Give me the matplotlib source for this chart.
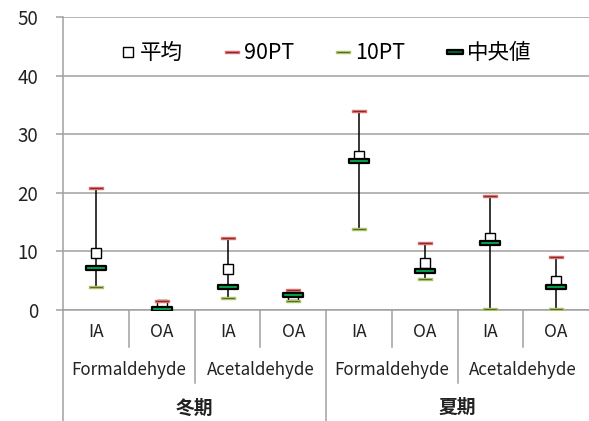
import matplotlib
matplotlib.use("Agg")
import matplotlib.pyplot as plt
from matplotlib.lines import Line2D
from matplotlib.path import Path
import numpy as np

plt.rcParams['font.family'] = ['Noto Sans CJK JP', 'DejaVu Sans']

sites = ['IA', 'OA', 'IA', 'OA', 'IA', 'OA', 'IA', 'OA']
compounds = ['Formaldehyde', 'Acetaldehyde', 'Formaldehyde', 'Acetaldehyde']
seasons = ['冬期', '夏期']

mean = [9.8, 0.9, 7.0, 2.6, 26.2, 8.0, 12.3, 5.0]
p90 = [20.9, 1.6, 12.3, 3.4, 34.0, 11.5, 19.5, 9.0]
p10 = [4.0, 0.1, 2.1, 1.5, 13.9, 5.3, 0.2, 0.2]
median = [7.2, 0.2, 4.0, 2.6, 25.5, 6.7, 11.5, 4.0]

# flat rectangle marker (width 2 : height h)
def bar_marker(h):
    return Path([(-1, -h), (1, -h), (1, h), (-1, h), (-1, -h)],
                [Path.MOVETO, Path.LINETO, Path.LINETO, Path.LINETO, Path.CLOSEPOLY])

dash_thin = bar_marker(0.2)
dash_med = bar_marker(0.22)

grid_c = '#a0a0a0'
txt_c = '#222222'

fig = plt.figure(figsize=(5.89, 4.21), dpi=100)
ax = fig.add_axes([63.3 / 589, 1 - 310 / 421, 1 - 63.3 / 589, 293 / 421])

x = np.arange(len(sites))
ax.vlines(x, p10, p90, color='black', lw=1.1, zorder=2)
ax.plot(x, mean, ls='none', marker='s', ms=7.5, mfc='white', mec='black', mew=1.0, zorder=3)
ax.plot(x, p90, ls='none', marker=dash_thin, ms=9.5, mfc='#3a1010', mec='#e06a6a', mew=1.0, zorder=4)
ax.plot(x, p10, ls='none', marker=dash_thin, ms=9.5, mfc='#2a3010', mec='#a6c464', mew=1.0, zorder=4)
ax.plot(x, median, ls='none', marker=dash_med, ms=14.5, mfc='#00b050', mec='black', mew=1.6, zorder=5)

ax.set_xlim(-0.5, len(sites) - 0.5)
ax.set_ylim(0, 50)
ax.set_yticks(np.arange(0, 51, 10))
ax.yaxis.grid(True, color=grid_c, lw=1.1)
ax.set_axisbelow(True)
ax.tick_params(axis='y', length=5, width=1.1, color=grid_c, pad=13, labelsize=13.5, labelcolor=txt_c)
ax.set_xticks([])
for s in ['top', 'right', 'bottom']:
    ax.spines[s].set_visible(False)
ax.spines['left'].set_color(grid_c)
ax.spines['left'].set_linewidth(1.1)

# hierarchical category axis
tr = ax.get_xaxis_transform()
y_site, y_comp, y_season = -0.075, -0.205, -0.334
y_l1, y_l2, y_l3 = -0.125, -0.249, -0.38
for i, s in enumerate(sites):
    ax.text(i, y_site, s, transform=tr, ha='center', va='center', fontsize=12.5, color=txt_c)
for j, c in enumerate(compounds):
    ax.text(2 * j + 0.5, y_comp, c, transform=tr, ha='center', va='center', fontsize=12.2, color=txt_c)
for k, s in enumerate(seasons):
    ax.text(4 * k + 1.5, y_season, s, transform=tr, ha='center', va='center', fontsize=13.5,
            fontweight='bold', color=txt_c)
ax.plot([-0.5, 7.5], [0, 0], transform=tr, color=grid_c, lw=1.1, clip_on=False, zorder=1)
ax.plot([-0.5, -0.5], [0, y_l3], transform=tr, color=grid_c, lw=1.1, clip_on=False)
for b in np.arange(0.5, 7.5, 1.0):
    if b == 3.5:
        yb = y_l3
    elif b in (1.5, 5.5):
        yb = y_l2
    else:
        yb = y_l1
    ax.plot([b, b], [0, yb], transform=tr, color=grid_c, lw=1.1, clip_on=False)

handles = [
    Line2D([], [], ls='none', marker='s', ms=7, mfc='white', mec='black', mew=1.0),
    Line2D([], [], ls='none', marker=dash_thin, ms=9.5, mfc='#3a1010', mec='#e06a6a', mew=1.0),
    Line2D([], [], ls='none', marker=dash_thin, ms=9.5, mfc='#2a3010', mec='#a6c464', mew=1.0),
    Line2D([], [], ls='none', marker=dash_med, ms=11.5, mfc='#006a30', mec='black', mew=1.6),
]
ax.legend(handles, ['平均', '90PT', '10PT', '中央値'], ncol=4, frameon=False,
          loc='center', bbox_to_anchor=(0.5, 0.877), prop={'size': 15.5},
          handlelength=0.6, handletextpad=0.25, columnspacing=2.0, borderaxespad=0)

fig.savefig('out.png', dpi=100)
